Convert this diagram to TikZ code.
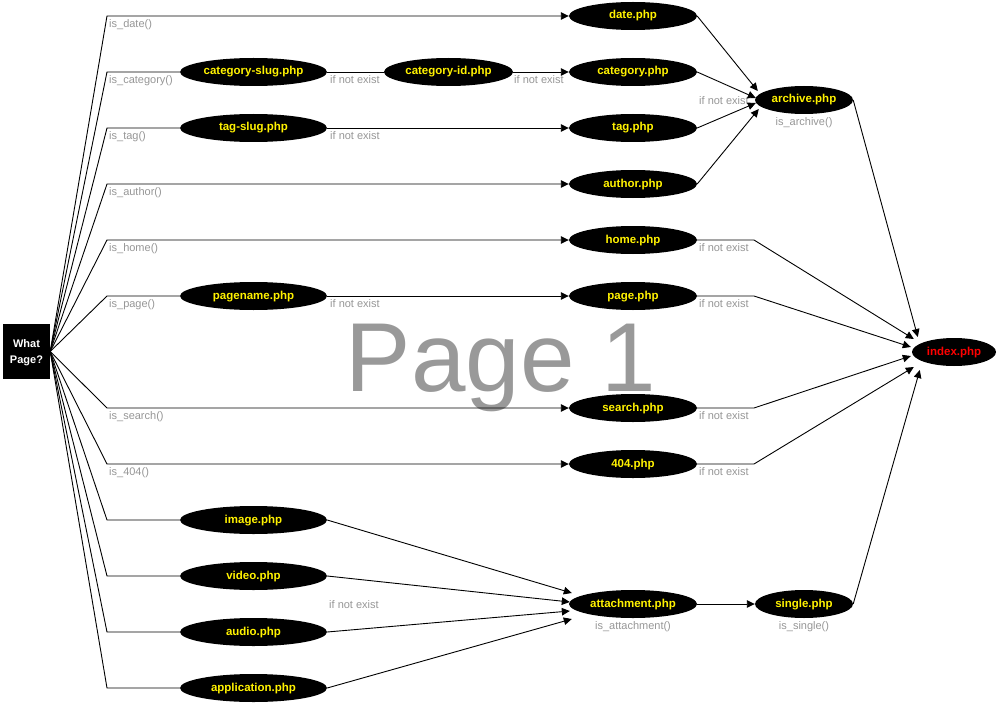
\documentclass[tikz,border=0pt]{standalone}
\usepackage{fontspec}
\setmainfont{Liberation Sans}
\usetikzlibrary{shapes.geometric,arrows.meta}
\definecolor{lblgray}{RGB}{150,150,150}
\definecolor{wmgray}{RGB}{153,153,153}
\begin{document}
\begin{tikzpicture}[x=1pt,y=-1pt,
  file/.style={ellipse, fill=black, text=yellow, font=\fontsize{11.5}{13}\selectfont\bfseries, inner sep=0pt, minimum height=28pt, text height=8.5pt, text depth=2.5pt},
  c1/.style={file, minimum width=147pt},
  c2/.style={file, minimum width=129pt},
  c3/.style={file, minimum width=128pt},
  c4/.style={file, minimum width=98pt},
  lbl/.style={text=lblgray, font=\fontsize{11}{13}\selectfont, inner sep=0pt, anchor=base west},
  lblc/.style={lbl, anchor=base},
  conn/.style={line width=0.9pt},
  arr/.style={conn, -{Triangle[length=8pt,width=7.5pt]}},
]
\useasboundingbox (0,0) rectangle (1001,706);
% watermark
\node[text=wmgray, font=\fontsize{98}{100}\selectfont, inner sep=0pt, anchor=base west] (wm) at (345.5,391) {Page 1};

% start node
\node[fill=black, text=white, font=\fontsize{11}{16}\selectfont\bfseries, align=center, minimum width=47pt, minimum height=55pt, inner sep=0pt] (wp) at (26.5,351.5) {};
\node[text=white, font=\fontsize{11}{16}\selectfont\bfseries, align=center, inner sep=0pt] (wpt) at (26.5,353) {What\\Page?};

% column 1
\node[c1] (catslug) at (253.5,72) {category-slug.php};
\node[c1] (tagslug) at (253.5,128) {tag-slug.php};
\node[c1] (pagename) at (253.5,296) {pagename.php};
\node[c1] (image) at (253.5,520) {image.php};
\node[c1] (video) at (253.5,576) {video.php};
\node[c1] (audio) at (253.5,632) {audio.php};
\node[c1] (application) at (253.5,688) {application.php};
% column 2
\node[c2] (catid) at (448.5,72) {category-id.php};
% column 3
\node[c3] (date) at (633,16) {date.php};
\node[c3] (category) at (633,72) {category.php};
\node[c3] (tag) at (633,128) {tag.php};
\node[c3] (author) at (633,184) {author.php};
\node[c3] (home) at (633,240) {home.php};
\node[c3] (page) at (633,296) {page.php};
\node[c3] (search) at (633,408) {search.php};
\node[c3] (p404) at (633,464) {404.php};
\node[c3] (attachment) at (633,604) {attachment.php};
% column 4
\node[c4] (archive) at (804,100) {archive.php};
\node[c4] (single) at (804,604) {single.php};
% index
\node[file, minimum width=84pt, text=red] (index) at (954,352) {index.php};

% bend points
\coordinate (tdate) at (107,16);
\coordinate (tcat) at (107,72);
\coordinate (ttag) at (107,128);
\coordinate (tauthor) at (107,184);
\coordinate (thome) at (107,240);
\coordinate (tpage) at (107,296);
\coordinate (tsearch) at (107,408);
\coordinate (t404) at (107,464);
\coordinate (timage) at (107,520);
\coordinate (tvideo) at (107,576);
\coordinate (taudio) at (107,632);
\coordinate (tapp) at (107,688);
\coordinate (khome) at (754,240);
\coordinate (kpage) at (754,296);
\coordinate (ksearch) at (754,408);
\coordinate (k404) at (754,464);

% labels
\node[lbl] (l1) at (109,27.5) {is\_date()};
\node[lbl] (l2) at (109,83.5) {is\_category()};
\node[lbl] (l3) at (109,139.5) {is\_tag()};
\node[lbl] (l4) at (109,195.5) {is\_author()};
\node[lbl] (l5) at (109,251.5) {is\_home()};
\node[lbl] (l6) at (109,307.5) {is\_page()};
\node[lbl] (l7) at (109,419.5) {is\_search()};
\node[lbl] (l8) at (109,475.5) {is\_404()};
\node[lbl] (n1) at (330,83.5) {if not exist};
\node[lbl] (n2) at (514,83.5) {if not exist};
\node[lbl] (n3) at (330,139.5) {if not exist};
\node[lbl] (n4) at (330,307.5) {if not exist};
\node[lbl] (n5) at (699,104.5) {if not exist};
\node[lbl] (n6) at (699,251.5) {if not exist};
\node[lbl] (n7) at (699,307.5) {if not exist};
\node[lbl] (n8) at (699,419.5) {if not exist};
\node[lbl] (n9) at (699,475.5) {if not exist};
\node[lbl] (n10) at (329,608) {if not exist};
\node[lblc] (la) at (804,126) {is\_archive()};
\node[lblc] (lt) at (633,629.5) {is\_attachment()};
\node[lblc] (ls) at (804,629.5) {is\_single()};

% connectors from start
\draw[arr] (wp.east) -- (tdate) -- (date);
\draw[conn] (wp.east) -- (tcat) -- (catslug);
\draw[conn] (wp.east) -- (ttag) -- (tagslug);
\draw[arr] (wp.east) -- (tauthor) -- (author);
\draw[arr] (wp.east) -- (thome) -- (home);
\draw[conn] (wp.east) -- (tpage) -- (pagename);
\draw[arr] (wp.east) -- (tsearch) -- (search);
\draw[arr] (wp.east) -- (t404) -- (p404);
\draw[conn] (wp.east) -- (timage) -- (image);
\draw[conn] (wp.east) -- (tvideo) -- (video);
\draw[conn] (wp.east) -- (taudio) -- (audio);
\draw[conn] (wp.east) -- (tapp) -- (application);

% chains
\draw[conn] (catslug) -- (catid);
\draw[arr] (catid) -- (category);
\draw[arr] (tagslug) -- (tag);
\draw[arr] (pagename) -- (page);

% to archive
\draw[arr] (date.east) -- ([xshift=3pt,yshift=9pt]archive.west);
\draw[arr] (category.east) -- ([xshift=1pt,yshift=2pt]archive.west);
\draw[arr] (tag.east) -- ([xshift=1pt,yshift=-3pt]archive.west);
\draw[arr] (author.east) -- ([xshift=4pt,yshift=-9pt]archive.west);

% to attachment
\draw[arr] (image.east) -- ([xshift=3pt,yshift=11pt]attachment.west);
\draw[arr] (video.east) -- ([xshift=1pt,yshift=2pt]attachment.west);
\draw[arr] (audio.east) -- ([xshift=1pt,yshift=-7pt]attachment.west);
\draw[arr] (application.east) -- ([xshift=3pt,yshift=-15pt]attachment.west);
\draw[arr] (attachment) -- (single);

% to index
\draw[arr] (archive.east) -- ([xshift=6pt,yshift=15pt]index.west);
\draw[arr] (home.east) -- (khome) -- ([xshift=2pt,yshift=13pt]index.west);
\draw[arr] (page.east) -- (kpage) -- ([xshift=-1pt,yshift=5pt]index.west);
\draw[arr] (search.east) -- (ksearch) -- ([xshift=-1pt,yshift=-4pt]index.west);
\draw[arr] (p404.east) -- (k404) -- ([xshift=2pt,yshift=-15pt]index.west);
\draw[arr] (single.east) -- ([xshift=8pt,yshift=-18pt]index.west);
\end{tikzpicture}
\end{document}
